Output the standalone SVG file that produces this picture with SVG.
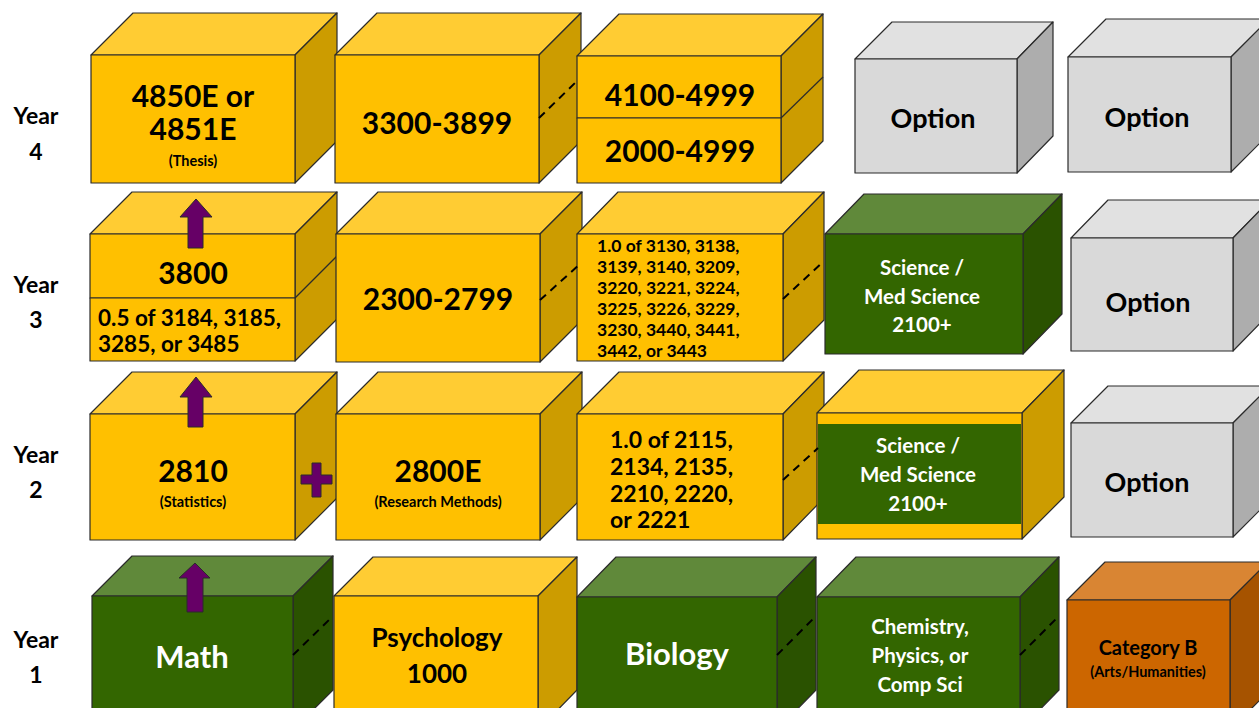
<svg xmlns="http://www.w3.org/2000/svg" width="1259" height="708" viewBox="0 0 1259 708">
<style>
.s{stroke:#2b2b2b;stroke-width:1.2;stroke-linejoin:round}
.yf{fill:#FFC000}.yt{fill:#FFCC33}.ys{fill:#CC9C00}
.gf{fill:#336600}.gt{fill:#60893A}.gs{fill:#2A5200}
.hf{fill:#D9D9D9}.ht{fill:#E1E1E1}.hs{fill:#ADADAD}
.of{fill:#CC6600}.ot{fill:#D98533}.os{fill:#A65300}
text{font-family:Lato,"Open Sans","Liberation Sans",sans-serif;font-weight:bold;fill:#000}
.c{text-anchor:middle}
.w{fill:#fff}
.big{font-size:30px}
.yr{font-size:23px}
.sm{font-size:14.5px}
.lst{font-size:17.5px}
.dash{stroke:#000;stroke-width:2;stroke-dasharray:8,6;fill:none}
.arr{fill:#660066;stroke:#2b2b2b;stroke-width:1}
</style>
<rect width="1259" height="708" fill="#fff"/>

<g id="year-labels">
<text class="yr c" x="36" y="124">Year</text><text class="yr c" x="36" y="160">4</text>
<text class="yr c" x="36" y="293">Year</text><text class="yr c" x="36" y="328">3</text>
<text class="yr c" x="36" y="463">Year</text><text class="yr c" x="36" y="498">2</text>
<text class="yr c" x="36" y="648">Year</text><text class="yr c" x="36" y="683">1</text>
</g>

<!-- Year 4 -->
<g id="thesis">
<polygon class="s yt" points="91,55 133,13 337,13 295,55"/>
<polygon class="s ys" points="295,55 337,13 337,141 295,183"/>
<rect class="s yf" x="91" y="55" width="204" height="128"/>
<text class="big c" x="193" y="107">4850E or</text>
<text class="big c" x="193" y="140">4851E</text>
<text class="sm c" x="193" y="166">(Thesis)</text>
</g>
<g id="y4-3300">
<polygon class="s yt" points="335,55 377,13 581,13 539,55"/>
<polygon class="s ys" points="539,55 581,13 581,141 539,183"/>
<rect class="s yf" x="335" y="55" width="204" height="128"/>
<text class="big c" x="437" y="134">3300-3899</text>
</g>
<g id="y4-4100">
<polygon class="s yt" points="577,56 619,14 823,14 781,56"/>
<polygon class="s ys" points="781,56 823,14 823,141 781,183"/>
<line class="s" x1="781" y1="118" x2="823" y2="77"/>
<rect class="s yf" x="577" y="56" width="204" height="62"/>
<rect class="s yf" x="577" y="118" width="204" height="65"/>
<text class="big c" x="680" y="106">4100-4999</text>
<text class="big c" x="680" y="162">2000-4999</text>
</g>
<g id="y4-option1">
<polygon class="s ht" points="855,59 892,22 1053,22 1017,59"/>
<polygon class="s hs" points="1017,59 1053,22 1053,136 1017,173"/>
<rect class="s hf" x="855" y="59" width="162" height="114"/>
<text class="c" font-size="27" x="933" y="128">Option</text>
</g>
<g id="y4-option2">
<polygon class="s ht" points="1068,57 1106,19 1269,19 1231,57"/>
<polygon class="s hs" points="1231,57 1269,19 1269,134 1231,172"/>
<rect class="s hf" x="1068" y="57" width="163" height="115"/>
<text class="c" font-size="27" x="1147" y="127">Option</text>
</g>

<!-- Year 3 -->
<g id="y3-3800">
<polygon class="s yt" points="90,234 132,192 337,192 295,234"/>
<polygon class="s ys" points="295,234 337,192 337,319 295,361"/>
<line class="s" x1="295" y1="298" x2="337" y2="256"/>
<rect class="s yf" x="90" y="234" width="205" height="64"/>
<rect class="s yf" x="90" y="298" width="205" height="63"/>
<text class="big c" x="193" y="284">3800</text>
<text font-size="22.5" x="98" y="326">0.5 of 3184, 3185,</text>
<text font-size="22.5" x="98" y="352">3285, or 3485</text>
</g>
<g id="y3-2300">
<polygon class="s yt" points="336,234 378,192 582,192 540,234"/>
<polygon class="s ys" points="540,234 582,192 582,320 540,362"/>
<rect class="s yf" x="336" y="234" width="204" height="128"/>
<text class="big c" x="438" y="310">2300-2799</text>
</g>
<g id="y3-list">
<polygon class="s yt" points="577,234 618,192 824,192 783,234"/>
<polygon class="s ys" points="783,234 824,192 824,320 783,361"/>
<rect class="s yf" x="577" y="234" width="206" height="127"/>
<text class="lst" x="597" y="252">1.0 of 3130, 3138,</text>
<text class="lst" x="597" y="273">3139, 3140, 3209,</text>
<text class="lst" x="597" y="294">3220, 3221, 3224,</text>
<text class="lst" x="597" y="315">3225, 3226, 3229,</text>
<text class="lst" x="597" y="336">3230, 3440, 3441,</text>
<text class="lst" x="597" y="357">3442, or 3443</text>
</g>
<g id="y3-science">
<polygon class="s gt" points="825,234 864,194 1062,194 1023,234"/>
<polygon class="s gs" points="1023,234 1062,194 1062,314 1023,354"/>
<rect class="s gf" x="825" y="234" width="198" height="120"/>
<text class="c w" font-size="20.5" x="922" y="275">Science /</text>
<text class="c w" font-size="20.5" x="922" y="304">Med Science</text>
<text class="c w" font-size="20.5" x="922" y="332">2100+</text>
</g>
<g id="y3-option">
<polygon class="s ht" points="1071,238 1108,200 1270,200 1233,238"/>
<polygon class="s hs" points="1233,238 1270,200 1270,313 1233,351"/>
<rect class="s hf" x="1071" y="238" width="162" height="113"/>
<text class="c" font-size="27" x="1148" y="312">Option</text>
</g>

<!-- Year 2 -->
<g id="y2-2810">
<polygon class="s yt" points="90,414 132,372 337,372 295,414"/>
<polygon class="s ys" points="295,414 337,372 337,498 295,540"/>
<rect class="s yf" x="90" y="414" width="205" height="126"/>
<text class="big c" x="193" y="482">2810</text>
<text class="sm c" x="193" y="507">(Statistics)</text>
</g>
<g id="y2-2800e">
<polygon class="s yt" points="336,414 378,372 582,372 540,414"/>
<polygon class="s ys" points="540,414 582,372 582,498 540,540"/>
<rect class="s yf" x="336" y="414" width="204" height="126"/>
<text class="big c" x="438" y="482">2800E</text>
<text class="sm c" x="438" y="507">(Research Methods)</text>
</g>
<g id="y2-list">
<polygon class="s yt" points="577,414 619,372 824,372 783,414"/>
<polygon class="s ys" points="783,414 824,372 824,498 783,540"/>
<rect class="s yf" x="577" y="414" width="206" height="126"/>
<text font-size="23" x="610" y="448">1.0 of 2115,</text>
<text font-size="23" x="610" y="475">2134, 2135,</text>
<text font-size="23" x="610" y="502">2210, 2220,</text>
<text font-size="23" x="610" y="528">or 2221</text>
</g>
<g id="y2-science">
<polygon class="s yt" points="817,413 859,370 1064,370 1022,413"/>
<polygon class="s ys" points="1022,413 1064,370 1064,497 1022,539"/>
<rect class="s yf" x="817" y="413" width="205" height="126"/>
<rect class="gf" x="818" y="424" width="203" height="100"/>
<text class="c w" font-size="20.5" x="918" y="453">Science /</text>
<text class="c w" font-size="20.5" x="918" y="482">Med Science</text>
<text class="c w" font-size="20.5" x="918" y="511">2100+</text>
</g>
<g id="y2-option">
<polygon class="s ht" points="1071,423 1108,386 1270,386 1233,423"/>
<polygon class="s hs" points="1233,423 1270,386 1270,500 1233,537"/>
<rect class="s hf" x="1071" y="423" width="162" height="114"/>
<text class="c" font-size="27" x="1147" y="492">Option</text>
</g>

<!-- Year 1 -->
<g id="y1-math">
<polygon class="s gt" points="92,596 132,556 333,556 293,596"/>
<polygon class="s gs" points="293,596 333,556 333,690 293,730"/>
<rect class="s gf" x="92" y="596" width="201" height="134"/>
<text class="c w" font-size="31" x="192" y="668">Math</text>
</g>
<g id="y1-psych">
<polygon class="s yt" points="334,596 373,557 577,557 538,596"/>
<polygon class="s ys" points="538,596 577,557 577,690 538,730"/>
<rect class="s yf" x="334" y="596" width="204" height="134"/>
<text class="c" font-size="26" x="437" y="647">Psychology</text>
<text class="c" font-size="26" x="437" y="683">1000</text>
</g>
<g id="y1-biology">
<polygon class="s gt" points="577,597 616,557 816,557 777,597"/>
<polygon class="s gs" points="777,597 816,557 816,690 777,730"/>
<rect class="s gf" x="577" y="597" width="200" height="133"/>
<text class="c w" font-size="31" x="677" y="665">Biology</text>
</g>
<g id="y1-chem">
<polygon class="s gt" points="817,597 856,557 1059,557 1020,597"/>
<polygon class="s gs" points="1020,597 1059,557 1059,690 1020,730"/>
<rect class="s gf" x="817" y="597" width="203" height="133"/>
<text class="c w" font-size="20.5" x="920" y="634">Chemistry,</text>
<text class="c w" font-size="20.5" x="920" y="663">Physics, or</text>
<text class="c w" font-size="20.5" x="920" y="692">Comp Sci</text>
</g>
<g id="y1-catb">
<polygon class="s ot" points="1067,600 1105,562 1268,562 1230,600"/>
<polygon class="s os" points="1230,600 1268,562 1268,692 1230,730"/>
<rect class="s of" x="1067" y="600" width="163" height="130"/>
<text class="c" font-size="20" x="1148" y="655" fill="#111">Category B</text>
<text class="c sm" x="1148" y="677">(Arts/Humanities)</text>
</g>

<g id="connectors">
<line class="dash" x1="539" y1="118" x2="578" y2="80"/>
<line class="dash" x1="540" y1="300" x2="580" y2="264"/>
<line class="dash" x1="783" y1="299" x2="824" y2="261"/>
<line class="dash" x1="783" y1="480" x2="818" y2="448"/>
<line class="dash" x1="293" y1="655" x2="333" y2="616"/>
<line class="dash" x1="777" y1="655" x2="816" y2="616"/>
<line class="dash" x1="1020" y1="655" x2="1059" y2="616"/>
<polygon class="arr" points="188,248 188,217 180,217 196,199 212,217 203,217 203,248"/>
<polygon class="arr" points="188,427 188,397 180,397 196,377 212,397 203,397 203,427"/>
<polygon class="arr" points="187,612 187,578 179,578 195,563 210,578 203,578 203,612"/>
<polygon class="arr" points="312,463 321,463 321,475 332,475 332,484 321,484 321,497 312,497 312,484 301,484 301,475 312,475"/>
</g>
</svg>
